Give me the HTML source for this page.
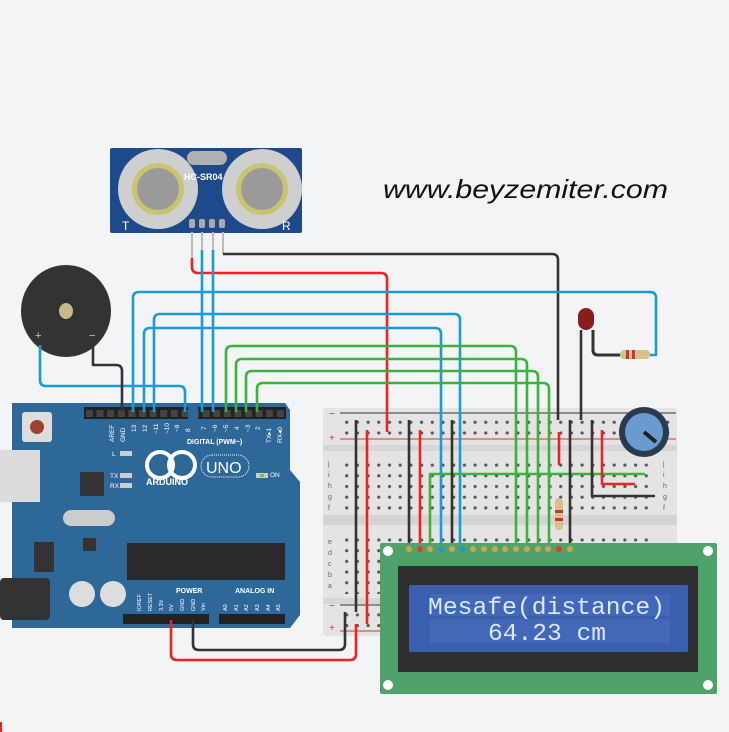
<!DOCTYPE html>
<html><head><meta charset="utf-8"><style>
html,body{margin:0;padding:0;background:#f3f4f6;}
svg{display:block}
</style></head><body>
<svg width="729" height="732" viewBox="0 0 729 732" xmlns="http://www.w3.org/2000/svg" font-family="Liberation Sans, sans-serif">
<defs>
<pattern id="dots" width="10.7" height="10.7" patternUnits="userSpaceOnUse" x="331" y="0">
<circle cx="5" cy="5" r="1.6" fill="#555"/></pattern>
<pattern id="hdr" width="10.6" height="12" patternUnits="userSpaceOnUse" x="84" y="407">
<rect x="2" y="3" width="7" height="7" fill="#444"/></pattern>
</defs>
<rect width="729" height="732" fill="#f3f4f6"/>
<!-- website -->
<text x="383" y="198" font-size="26" font-style="italic" fill="#111" textLength="285" lengthAdjust="spacingAndGlyphs">www.beyzemiter.com</text>

<!-- Breadboard -->
<rect x="323" y="408" width="354" height="228" rx="3" fill="#e4e4e4"/>
<rect x="323" y="445" width="354" height="6" fill="#d6d6d6"/>
<rect x="323" y="515" width="354" height="10" fill="#d4d4d4"/>
<rect x="323" y="598" width="354" height="6" fill="#d6d6d6"/>
<rect x="340" y="416" width="330" height="26" fill="url(#dots)"/>
<rect x="340" y="456" width="310" height="58" fill="url(#dots)"/>
<rect x="340" y="532" width="310" height="62" fill="url(#dots)"/>
<rect x="340" y="607" width="40" height="25" fill="url(#dots)"/>
<line x1="340" y1="413" x2="676" y2="413" stroke="#333" stroke-width="1"/>
<line x1="340" y1="439" x2="676" y2="439" stroke="#d33" stroke-width="1"/>
<line x1="340" y1="605" x2="380" y2="605" stroke="#333" stroke-width="1"/>
<line x1="340" y1="631" x2="380" y2="631" stroke="#d33" stroke-width="1"/>
<text x="329" y="417" font-size="10" fill="#555">−</text>
<text x="329" y="441" font-size="10" fill="#d33">+</text>
<text x="329" y="609" font-size="10" fill="#555">−</text>
<text x="329" y="631" font-size="10" fill="#d33">+</text>
<g font-size="7" fill="#666"><text x="663" y="466">j</text><text x="663" y="477">i</text><text x="663" y="488">h</text><text x="663" y="499">g</text><text x="663" y="510">f</text>
<text x="328" y="466">j</text><text x="328" y="477">i</text><text x="328" y="488">h</text><text x="328" y="499">g</text><text x="328" y="510">f</text>
<text x="328" y="544">e</text><text x="328" y="555">d</text><text x="328" y="566">c</text><text x="328" y="577">b</text><text x="328" y="588">a</text></g>

<!-- Sensor -->
<rect x="110" y="148" width="192" height="85" rx="2" fill="#1e4a8c"/>
<circle cx="158" cy="189" r="40" fill="#cfcfcf"/><circle cx="158" cy="189" r="26" fill="#c8c470"/><circle cx="158" cy="189" r="21" fill="#9a9a9a"/>
<circle cx="262" cy="189" r="40" fill="#cfcfcf"/><circle cx="262" cy="189" r="26" fill="#c8c470"/><circle cx="262" cy="189" r="21" fill="#9a9a9a"/>
<rect x="187" y="151" width="40" height="14" rx="7" fill="#b0b0b0"/>
<text x="184" y="180" font-size="9" fill="#fff" font-weight="bold">HC-SR04</text>
<text x="122" y="230" font-size="12" fill="#fff">T</text><text x="282" y="230" font-size="12" fill="#fff">R</text>
<g fill="#aaa"><rect x="189" y="219" width="6" height="9" rx="2"/><rect x="199" y="219" width="6" height="9" rx="2"/><rect x="209" y="219" width="6" height="9" rx="2"/><rect x="219" y="219" width="6" height="9" rx="2"/></g>
<g stroke="#bbb" stroke-width="2"><line x1="192" y1="232" x2="192" y2="258"/><line x1="202" y1="232" x2="202" y2="250"/><line x1="213" y1="232" x2="213" y2="250"/><line x1="223" y1="232" x2="223" y2="254"/></g>

<!-- Buzzer -->
<ellipse cx="66" cy="311" rx="45" ry="46" fill="#333"/>
<ellipse cx="66" cy="311" rx="7" ry="8" fill="#c8b98a"/>
<text x="35" y="339" font-size="11" fill="#ccc">+</text><text x="89" y="339" font-size="11" fill="#ccc">−</text>

<!-- Arduino -->
<path d="M12 403 H285 L290 410 V470 L300 482 V615 L290 628 H12 Z" fill="#2e6899"/>
<rect x="0" y="450" width="40" height="52" fill="#dcdcdc"/>
<rect x="0" y="578" width="50" height="42" rx="4" fill="#333"/>
<rect x="22" y="412" width="30" height="30" rx="3" fill="#ddd"/><circle cx="37" cy="427" r="7" fill="#a0412e"/>
<rect x="84" y="407" width="104" height="12" fill="#222"/><rect x="198" y="407" width="88" height="12" fill="#222"/>
<rect x="84" y="407" width="104" height="12" fill="url(#hdr)"/><rect x="198" y="407" width="88" height="12" fill="url(#hdr)"/>
<g font-size="6.5" fill="#fff">
<text transform="translate(114,442) rotate(-90)">AREF</text><text transform="translate(125,442) rotate(-90)">GND</text>
<text transform="translate(136,432) rotate(-90)">13</text><text transform="translate(147,432) rotate(-90)">12</text>
<text transform="translate(158,434) rotate(-90)">~11</text><text transform="translate(169,434) rotate(-90)">~10</text>
<text transform="translate(179,432) rotate(-90)">~9</text><text transform="translate(190,432) rotate(-90)">8</text>
<text transform="translate(206,430) rotate(-90)">7</text><text transform="translate(217,432) rotate(-90)">~6</text>
<text transform="translate(228,432) rotate(-90)">~5</text><text transform="translate(239,430) rotate(-90)">4</text>
<text transform="translate(250,432) rotate(-90)">~3</text><text transform="translate(260,430) rotate(-90)">2</text>
<text transform="translate(271,443) rotate(-90)">TX▸1</text><text transform="translate(282,443) rotate(-90)">RX◂0</text>
</g>
<text x="187" y="444" font-size="7" fill="#fff" font-weight="bold">DIGITAL (PWM~)</text>
<g font-size="6.5" fill="#fff"><text x="112" y="456">L</text><text x="110" y="478">TX</text><text x="110" y="488">RX</text><text x="270" y="477">ON</text></g>
<rect x="120" y="451" width="12" height="5" fill="#ccc"/><rect x="120" y="473" width="12" height="5" fill="#ccc"/><rect x="120" y="483" width="12" height="5" fill="#ccc"/>
<rect x="256" y="473" width="12" height="5" fill="#ccc"/><rect x="260" y="474" width="4" height="3" fill="#5c5"/>
<rect x="80" y="472" width="24" height="24" fill="#333"/>
<rect x="63" y="510" width="52" height="16" rx="8" fill="#ccc"/>
<circle cx="160" cy="465" r="13" fill="none" stroke="#fff" stroke-width="4"/><circle cx="182" cy="465" r="13" fill="none" stroke="#fff" stroke-width="4"/>
<text x="146" y="485" font-size="9" font-weight="bold" fill="#fff">ARDUINO</text>
<rect x="201" y="455" width="48" height="22" rx="11" fill="none" stroke="#fff" stroke-dasharray="1 1"/>
<text x="206" y="473" font-size="16" fill="#fff">UNO</text>
<rect x="127" y="543" width="158" height="37" fill="#2a2a2a"/>
<rect x="83" y="538" width="13" height="13" fill="#333"/>
<circle cx="82" cy="594" r="13" fill="#ddd"/><circle cx="113" cy="594" r="13" fill="#ddd"/>
<rect x="123" y="614" width="86" height="10" fill="#222"/><rect x="219" y="614" width="66" height="10" fill="#222"/>
<text x="176" y="593" font-size="7" fill="#fff" font-weight="bold">POWER</text><text x="235" y="593" font-size="7" fill="#fff" font-weight="bold">ANALOG IN</text>
<g font-size="5.5" fill="#fff">
<text transform="translate(141,611) rotate(-90)">IOREF</text><text transform="translate(152,611) rotate(-90)">RESET</text>
<text transform="translate(163,611) rotate(-90)">3.3V</text><text transform="translate(173,611) rotate(-90)">5V</text>
<text transform="translate(184,611) rotate(-90)">GND</text><text transform="translate(195,611) rotate(-90)">GND</text>
<text transform="translate(205,611) rotate(-90)">Vin</text>
<text transform="translate(227,611) rotate(-90)">A0</text><text transform="translate(238,611) rotate(-90)">A1</text>
<text transform="translate(248,611) rotate(-90)">A2</text><text transform="translate(259,611) rotate(-90)">A3</text>
<text transform="translate(270,611) rotate(-90)">A4</text><text transform="translate(280,611) rotate(-90)">A5</text>
</g>
<rect x="34" y="542" width="20" height="30" fill="#333"/>

<!-- LED & resistor -->
<rect x="578" y="308" width="16" height="22" rx="8" fill="#8b1c1c"/>
<path d="M593 330 V350 Q593 355 598 355 H620" stroke="#333" stroke-width="3" fill="none"/>
<rect x="620" y="350" width="30" height="9" rx="4" fill="#d8c08a"/>
<g fill="#c33"><rect x="626" y="350" width="3" height="9"/><rect x="632" y="350" width="3" height="9"/></g>

<!-- Wires -->
<g fill="none" stroke-width="2.6" stroke-linejoin="round">
<path d="M192 258 V267 Q192 273 198 273 H381 Q387 273 387 279 V432" stroke="#e22"/>
<path d="M223 254 H552 Q558 254 558 260 V420" stroke="#333"/>
<path d="M581 330 V420" stroke="#333"/>
<path d="M202 250 V412" stroke="#1a9ad6"/><path d="M213 250 V412" stroke="#1a9ad6"/>
<path d="M133 412 V298 Q133 292 139 292 H650 Q656 292 656 298 V355 H650" stroke="#1a9ad6"/>
<path d="M154 412 V320 Q154 314 160 314 H454 Q460 314 460 320 V548" stroke="#1a9ad6"/>
<path d="M144 412 V334 Q144 328 150 328 H435 Q441 328 441 334 V548" stroke="#1a9ad6"/>
<path d="M40 345 V380 Q40 386 46 386 H179 Q185 386 185 392 V412" stroke="#1a9ad6"/>
<path d="M93 345 V365 H116 Q122 365 122 371 V412" stroke="#333"/>
<path d="M226 412 V352 Q226 346 232 346 H510 Q516 346 516 352 V548" stroke="#3bb33b"/>
<path d="M236 412 V365 Q236 359 242 359 H521 Q527 359 527 365 V548" stroke="#3bb33b"/>
<path d="M246 412 V377 Q246 371 252 371 H532 Q538 371 538 377 V548" stroke="#3bb33b"/>
<path d="M257 412 V389 Q257 383 263 383 H543 Q549 383 549 389 V548" stroke="#3bb33b"/>
<path d="M430 548 V474 H645" stroke="#3bb33b"/>
<path d="M409 420 V548" stroke="#333"/><path d="M420 430 V548" stroke="#e22"/>
<path d="M452 420 V548" stroke="#333"/>
<path d="M559 432 V465" stroke="#e22"/>
<path d="M570 420 V548" stroke="#333"/>
<path d="M592 420 V496 H655" stroke="#333"/>
<path d="M602 430 V484 H635" stroke="#e22"/>
<path d="M356 420 V612" stroke="#333"/><path d="M367 430 V624" stroke="#e22"/>
<path d="M193 620 V644 Q193 650 199 650 H339 Q345 650 345 644 V612" stroke="#333"/>
<path d="M171 620 V654 Q171 660 177 660 H350 Q356 660 356 654 V624" stroke="#e22"/>
</g>
<rect x="555" y="498" width="8" height="32" rx="4" fill="#d8c08a"/>
<rect x="555" y="510" width="8" height="3" fill="#c33"/><rect x="555" y="518" width="8" height="3" fill="#c33"/>

<!-- Potentiometer -->
<circle cx="644" cy="432" r="25" fill="#2b3b4e"/><circle cx="644" cy="432" r="19" fill="#6a9bd0"/>
<line x1="644" y1="432" x2="656" y2="442" stroke="#222" stroke-width="4"/>

<!-- LCD -->
<rect x="380" y="543" width="337" height="151" rx="2" fill="#4fa36a"/>
<circle cx="388" cy="551" r="5" fill="#fff"/><circle cx="708" cy="551" r="5" fill="#fff"/><circle cx="388" cy="685" r="5" fill="#fff"/><circle cx="708" cy="685" r="5" fill="#fff"/>
<g fill="#c9a64a">
<circle cx="409" cy="549" r="3"/><circle cx="420" cy="549" r="3" fill="#e33"/><circle cx="430" cy="549" r="3"/><circle cx="441" cy="549" r="3" fill="#29c"/><circle cx="452" cy="549" r="3"/><circle cx="462" cy="549" r="3" fill="#29c"/><circle cx="473" cy="549" r="3"/><circle cx="484" cy="549" r="3"/><circle cx="495" cy="549" r="3"/><circle cx="505" cy="549" r="3"/><circle cx="516" cy="549" r="3"/><circle cx="527" cy="549" r="3"/><circle cx="538" cy="549" r="3"/><circle cx="548" cy="549" r="3"/><circle cx="559" cy="549" r="3" fill="#e33"/><circle cx="570" cy="549" r="3"/>
</g>
<rect x="398" y="566" width="300" height="106" fill="#2f2f2f"/>
<rect x="409" y="585" width="279" height="67" rx="2" fill="#3b5fae"/>
<g fill="#4468b8"><rect x="430" y="594" width="240" height="22"/><rect x="430" y="619" width="240" height="24"/></g>
<text x="428" y="614" font-family="Liberation Mono, monospace" font-size="24" fill="#dde6ff" textLength="237" lengthAdjust="spacingAndGlyphs">Mesafe(distance)</text>
<text x="488" y="640" font-family="Liberation Mono, monospace" font-size="24" fill="#dde6ff" textLength="118" lengthAdjust="spacingAndGlyphs">64.23 cm</text>
<rect x="0" y="722" width="2" height="10" fill="#e22"/>
</svg>
</body></html>
